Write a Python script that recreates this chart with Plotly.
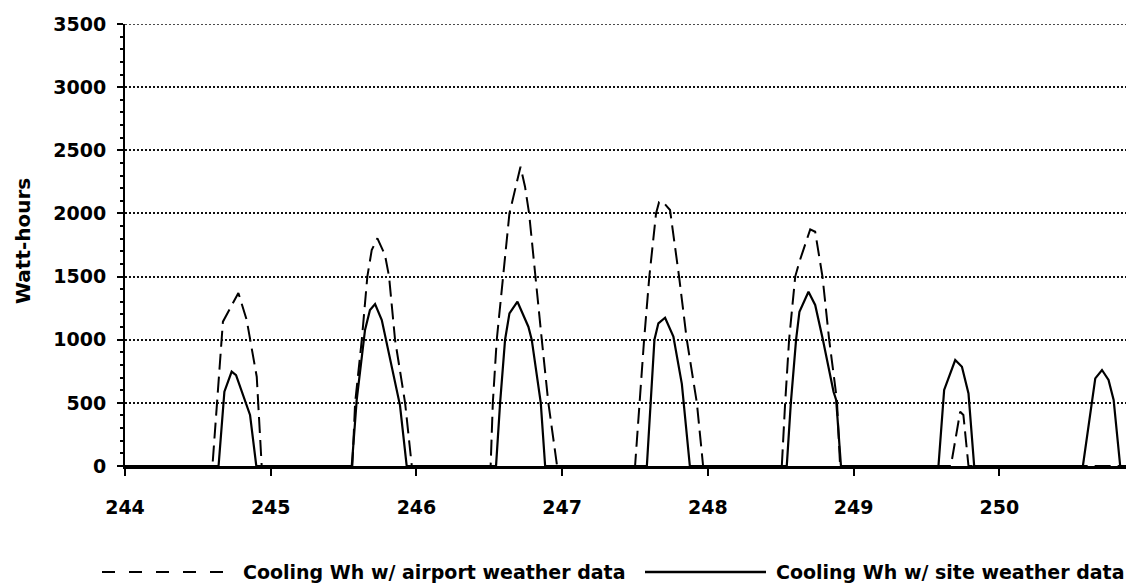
import plotly.graph_objects as go

# ---- data ----
airport_day = [244.000,
               244.600, 244.672, 244.778, 244.835, 244.904, 244.938,
               245.560, 245.579, 245.625, 245.663, 245.693, 245.732, 245.784, 245.812, 245.853, 245.922, 245.968,
               246.509, 246.524, 246.551, 246.596, 246.638, 246.714, 246.745, 246.773, 246.814, 246.860, 246.905, 246.965,
               247.500, 247.530, 247.562, 247.598, 247.644, 247.665, 247.692, 247.740, 247.802, 247.855, 247.924, 247.967,
               248.507, 248.530, 248.557, 248.599, 248.628, 248.702, 248.736, 248.786, 248.832, 248.885, 248.907,
               249.667, 249.731, 249.753, 249.788,
               250.910]
airport_wh = [0,
              0, 1143, 1370, 1156, 707, 0,
              0, 500, 1000, 1500, 1710, 1803, 1671, 1500, 1000, 500, 0,
              0, 500, 1000, 1500, 2000, 2370, 2212, 2000, 1500, 1000, 500, 0,
              0, 500, 1000, 1500, 2000, 2090, 2090, 2027, 1500, 1000, 500, 0,
              0, 500, 1000, 1500, 1618, 1874, 1855, 1500, 1000, 523, 0,
              0, 430, 404, 0,
              0]

site_day = [244.000,
            244.642, 244.682, 244.732, 244.762, 244.858, 244.901,
            245.556, 245.590, 245.647, 245.681, 245.716, 245.762, 245.887, 245.933,
            246.546, 246.574, 246.608, 246.638, 246.693, 246.768, 246.791, 246.853, 246.883,
            247.581, 247.608, 247.633, 247.660, 247.706, 247.763, 247.821, 247.876,
            248.541, 248.569, 248.605, 248.628, 248.690, 248.736, 248.789, 248.862, 248.880, 248.913,
            249.582, 249.621, 249.697, 249.743, 249.788, 249.827,
            250.573, 250.658, 250.704, 250.749, 250.784, 250.829,
            250.910]
site_wh = [0,
           0, 588, 747, 720, 404, 0,
           0, 523, 1077, 1235, 1283, 1156, 480, 0,
           0, 500, 1000, 1209, 1301, 1103, 1000, 500, 0,
           0, 500, 1000, 1130, 1174, 1024, 650, 0,
           0, 500, 1000, 1222, 1380, 1275, 1000, 588, 523, 0,
           0, 602, 839, 786, 575, 0,
           0, 694, 760, 681, 523, 0,
           0]

x_ticks = [244, 245, 246, 247, 248, 249, 250]
y_ticks = [0, 500, 1000, 1500, 2000, 2500, 3000, 3500]

series_names = ["Cooling Wh w/ airport weather data", "Cooling Wh w/ site weather data"]
y_title = "Watt-hours"

FONT = "DejaVu Sans"

fig = go.Figure()
fig.add_trace(go.Scatter(x=airport_day, y=airport_wh, mode="lines", name=series_names[0],
                         line=dict(color="black", width=2, dash="16px,7px"), showlegend=False))
fig.add_trace(go.Scatter(x=site_day, y=site_wh, mode="lines", name=series_names[1],
                         line=dict(color="black", width=2.2), showlegend=False))

# page body has an 8px margin: place the plot box on the 1134x586 window coordinates
OFF = 8
W, H = 1134 - OFF, 586 - OFF
PL, PR, PT, PB = 125, 1132, 24, 466          # plot box in window pixels
L, R, T, B = PL - OFF, W - (PR - OFF), PT - OFF, H - (PB - OFF)
pw, ph = PR - PL, PB - PT

def px(x):
    return (x - PL) / pw

def py(y):
    return (PB - y) / ph

# top gridline (plotly omits the one on the plot edge)
fig.add_shape(type="line", xref="paper", yref="y", x0=0, x1=1, y0=y_ticks[-1], y1=y_ticks[-1],
              line=dict(color="#111", width=1.5, dash="2px,2px"), layer="below")

# manual legend with long line samples
leg_y = py(572)
fig.add_shape(type="line", xref="paper", yref="paper", x0=px(102), x1=px(229), y0=leg_y, y1=leg_y,
              line=dict(color="black", width=2, dash="13px,14px"))
fig.add_shape(type="line", xref="paper", yref="paper", x0=px(645), x1=px(766), y0=leg_y, y1=leg_y,
              line=dict(color="black", width=2.5))
fig.add_annotation(xref="paper", yref="paper", x=px(241), y=leg_y, xanchor="left", yanchor="middle",
                   text=series_names[0], showarrow=False,
                   font=dict(family=FONT, size=19, color="black", weight="bold"))
fig.add_annotation(xref="paper", yref="paper", x=px(774), y=leg_y, xanchor="left", yanchor="middle",
                   text=series_names[1], showarrow=False,
                   font=dict(family=FONT, size=19, color="black", weight="bold"))
fig.add_annotation(xref="paper", yref="paper", x=px(23), y=py(241), xanchor="center", yanchor="middle",
                   text=y_title, textangle=-90, showarrow=False,
                   font=dict(family=FONT, size=20, color="black", weight="bold"))

fig.update_layout(
    width=W, height=H,
    margin=dict(l=L, r=R, t=T, b=B, autoexpand=False),
    paper_bgcolor="white", plot_bgcolor="white",
    font=dict(family=FONT, size=19, color="black", weight="bold"),
)
fig.update_xaxes(
    range=[244, 250.91], tickvals=x_ticks, ticktext=[str(v) for v in x_ticks],
    showgrid=False, zeroline=False,
    showline=True, linecolor="black", linewidth=3,
    ticks="outside", ticklen=7, tickwidth=2, tickcolor="black",
    ticklabelstandoff=15,
    tickfont=dict(family=FONT, size=19, color="black", weight="bold"),
)
fig.update_yaxes(
    range=[0, 3500], tickvals=y_ticks, ticktext=[str(v) for v in y_ticks],
    showgrid=True, gridcolor="#111", gridwidth=1.5, griddash="2px,2px",
    zeroline=False,
    showline=True, linecolor="black", linewidth=2,
    ticks="outside", ticklen=6, tickwidth=2, tickcolor="black",
    ticklabelstandoff=7,
    minor=dict(dtick=100, ticks="outside", ticklen=3, tickwidth=1.5, tickcolor="black", showgrid=False),
    tickfont=dict(family=FONT, size=19, color="black", weight="bold"),
)

fig.write_html("out.html")
